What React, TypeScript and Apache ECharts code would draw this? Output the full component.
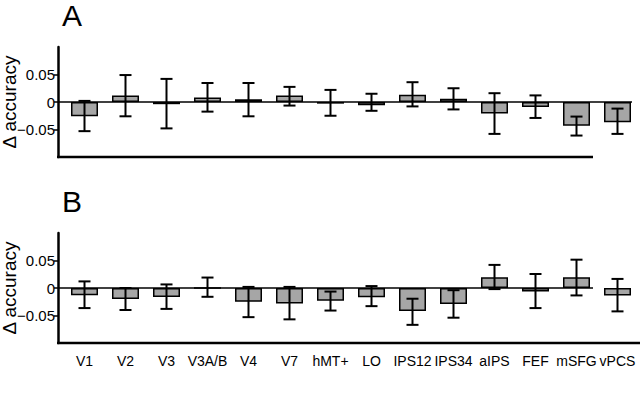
import React, { useEffect, useRef } from "react";
import * as echarts from "echarts";

const categories = ["V1", "V2", "V3", "V3A/B", "V4", "V7", "hMT+", "LO", "IPS12", "IPS34", "aIPS", "FEF", "mSFG", "vPCS"];

const meanA = [-0.026, 0.012, -0.004, 0.008, 0.005, 0.012, -0.003, -0.006, 0.013, 0.006, -0.021, -0.009, -0.043, -0.037];
const lowA = [-0.053, -0.026, -0.048, -0.0175, -0.026, -0.0065, -0.025, -0.016, -0.008, -0.0135, -0.058, -0.029, -0.061, -0.058];
const highA = [0.002, 0.049, 0.042, 0.0345, 0.0345, 0.0275, 0.022, 0.015, 0.036, 0.025, 0.016, 0.012, -0.0265, -0.012];

const meanB = [-0.013, -0.02, -0.0165, 0, -0.025, -0.028, -0.023, -0.017, -0.042, -0.029, 0.0195, -0.0065, 0.0195, -0.0135];
const lowB = [-0.0365, -0.04, -0.038, -0.016, -0.053, -0.057, -0.041, -0.033, -0.067, -0.054, -0.002, -0.0365, -0.0135, -0.0425];
const highB = [0.012, 0.0, 0.0065, 0.019, 0.002, 0.002, -0.0065, 0.0035, -0.0195, -0.004, 0.042, 0.0255, 0.0515, 0.0165];

const yTicks = [-0.05, 0, 0.05];
const panelLabels = ["A", "B"];
const yTitle = "Δ accuracy";

const FONT = "'Liberation Sans', Arial, Helvetica, sans-serif";

export default function App() {
  const ref = useRef<HTMLDivElement>(null);
  useEffect(() => {
    if (!ref.current) return;
    const chart = echarts.init(ref.current, null, { renderer: "svg" });

    const gridLeft = 64;
    const gridWidth = 574;
    const axisX = 58;
    const tops = [47, 233];
    const h = 110;

    const yAxisCommon = (gi: number) => ({
      type: "value",
      gridIndex: gi,
      min: -0.1,
      max: 0.1,
      interval: 0.05,
      offset: gridLeft - axisX,
      splitLine: { show: false },
      axisLine: { show: true, lineStyle: { color: "#000", width: 2.5 } },
      axisTick: { show: true, length: 4, lineStyle: { color: "#000", width: 1.5 }, customValues: yTicks },
      axisLabel: {
        customValues: yTicks,
        color: "#000",
        fontSize: 15,
        fontFamily: FONT,
        margin: 3,
        formatter: (v: number) => (v === 0 ? "0" : v < 0 ? "\u2212" + Math.abs(v).toFixed(2) : v.toFixed(2)),
      },
      name: yTitle,
      nameLocation: "middle",
      nameRotate: 90,
      nameGap: 39,
      nameMoveOverlap: false,
      nameTextStyle: { color: "#000", fontSize: 19, fontFamily: FONT },
    });

    const errRender = (params: any, api: any) => {
      const i = api.value(0);
      const lo = api.coord([i, api.value(1)]);
      const hi = api.coord([i, api.value(2)]);
      const w = 6;
      const style = { stroke: "#000", lineWidth: 2 };
      return {
        type: "group",
        children: [
          { type: "line", shape: { x1: lo[0], y1: lo[1], x2: hi[0], y2: hi[1] }, style },
          { type: "line", shape: { x1: lo[0] - w, y1: lo[1], x2: lo[0] + w, y2: lo[1] }, style },
          { type: "line", shape: { x1: hi[0] - w, y1: hi[1], x2: hi[0] + w, y2: hi[1] }, style },
        ],
      };
    };

    const barSeries = (gi: number, data: number[]) => ({
      type: "bar",
      xAxisIndex: gi,
      yAxisIndex: gi,
      data,
      barWidth: 27,
      itemStyle: { color: "#a6a6a6", borderColor: "#000", borderWidth: 1.5 },
      z: 2,
    });

    const errSeries = (gi: number, lo: number[], hi: number[]) => ({
      type: "custom",
      xAxisIndex: gi,
      yAxisIndex: gi,
      data: categories.map((_, i) => [i, lo[i], hi[i]]),
      encode: { x: 0, y: [1, 2] },
      renderItem: errRender,
      z: 5,
    });

    const zeroY = (gi: number) => tops[gi] + h / 2;
    const axisBottom = tops[1] + h;
    const lineStyle = (w: number) => ({ stroke: "#000", lineWidth: w });

    chart.setOption({
      animation: false,
      backgroundColor: "#fff",
      title: panelLabels.map((t, i) => ({
        text: t,
        left: 57,
        top: i === 0 ? -5 : 181,
        textStyle: { fontSize: 30, fontWeight: "normal", color: "#000", fontFamily: FONT },
      })),
      grid: [
        { left: gridLeft, width: gridWidth, top: tops[0], height: h, containLabel: false, outerBoundsMode: "none" },
        { left: gridLeft, width: gridWidth, top: tops[1], height: h, containLabel: false, outerBoundsMode: "none" },
      ],
      xAxis: [
        {
          type: "category",
          gridIndex: 0,
          data: categories,
          axisLine: { show: false },
          axisTick: { show: false },
          axisLabel: { show: false },
        },
        {
          type: "category",
          gridIndex: 1,
          data: categories,
          axisLine: { show: false, onZero: false },
          axisTick: { show: false },
          axisLabel: {
            show: true,
            interval: 0,
            hideOverlap: false,
            margin: 11,
            color: "#000",
            fontSize: 14,
            fontFamily: FONT,
          },
        },
      ],
      yAxis: [yAxisCommon(0), yAxisCommon(1)],
      series: [
        barSeries(0, meanA),
        errSeries(0, lowA, highA),
        barSeries(1, meanB),
        errSeries(1, lowB, highB),
      ],
      graphic: [
        { type: "line", shape: { x1: axisX, y1: zeroY(0), x2: 632, y2: zeroY(0) }, style: lineStyle(1.5), z: 3 },
        { type: "line", shape: { x1: axisX, y1: zeroY(1), x2: 593, y2: zeroY(1) }, style: lineStyle(1.5), z: 3 },
        { type: "line", shape: { x1: axisX - 1, y1: tops[0] + h, x2: 593, y2: tops[0] + h }, style: lineStyle(2.5), z: 3 },
        { type: "line", shape: { x1: axisX - 1, y1: axisBottom, x2: 640, y2: axisBottom }, style: lineStyle(2.5), z: 3 },
      ],
    });
    return () => chart.dispose();
  }, []);
  return <div ref={ref} style={{ position: "fixed", left: 0, top: 0, width: 640, height: 405, background: "#fff" }} />;
}
